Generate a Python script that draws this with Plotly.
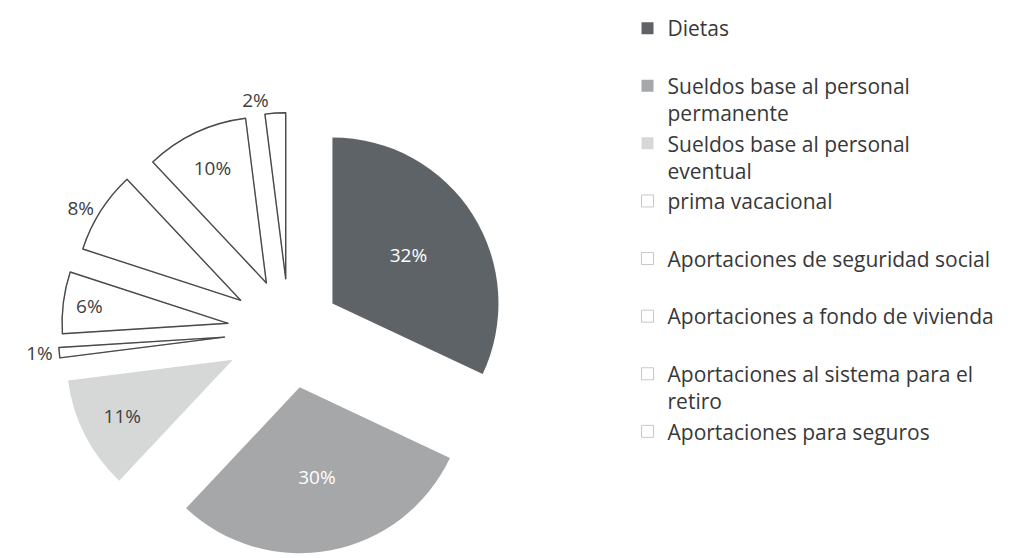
import plotly.graph_objects as go

# ---- data ----
categories = [
    "Dietas",
    "Sueldos base al personal permanente",
    "Sueldos base al personal eventual",
    "prima vacacional",
    "Aportaciones de seguridad social",
    "Aportaciones a fondo de vivienda",
    "Aportaciones al sistema para el retiro",
    "Aportaciones para seguros",
]
values = [32, 30, 11, 1, 6, 8, 10, 2]

# legend display text (line breaks as in the original legend)
legend_text = [
    "Dietas<br> ",
    "Sueldos base al personal<br>permanente",
    "Sueldos base al personal<br>eventual",
    "prima vacacional<br> ",
    "Aportaciones de seguridad social<br> ",
    "Aportaciones a fondo de vivienda<br> ",
    "Aportaciones al sistema para el<br>retiro",
    "Aportaciones para seguros",
]

# ---- styles ----
slice_colors = ["#5e6368", "#a5a7a9", "#d6d8d8", "#ffffff", "#ffffff", "#ffffff", "#ffffff", "#ffffff"]
faint_lines = ["#5e6368", "#a5a7a9", "#d6d8d8", "#c8c8c8", "#c8c8c8", "#c8c8c8", "#c8c8c8", "#c8c8c8"]
faint_widths = [0, 0, 0, 1, 1, 1, 1, 1]
dark_widths = [0, 0, 0, 1.4, 1.4, 1.4, 1.4, 1.4]
pulls = [0.31, 0.345, 0.38, 0.39, 0.37, 0.345, 0.32, 0.315]
text_pos = ["inside", "inside", "inside", "outside", "inside", "outside", "inside", "outside"]
text_colors = ["#ffffff", "#ffffff", "#404040", "#404040", "#404040", "#404040", "#404040", "#404040"]

W, H = 1024, 558
cx, cy, r = 281, 323, 166
half = r * (1 + max(pulls))
dom = dict(
    x=[(cx - half) / W, (cx + half) / W],
    y=[(H - cy - half) / H, (H - cy + half) / H],
)

fig = go.Figure()
fig.add_trace(
    go.Pie(
        labels=legend_text,
        values=values,
        sort=False,
        direction="clockwise",
        rotation=0,
        pull=pulls,
        marker=dict(colors=slice_colors, line=dict(color=faint_lines, width=faint_widths)),
        textinfo="percent",
        textposition=text_pos,
        insidetextorientation="horizontal",
        textfont=dict(family="Open Sans", size=19, color=text_colors),
        domain=dom,
        hovertext=categories,
        hoverinfo="text+percent",
    )
)
# dark outline overlay for the white slices (not shown in legend)
fig.add_trace(
    go.Pie(
        labels=legend_text,
        values=values,
        sort=False,
        direction="clockwise",
        rotation=0,
        pull=pulls,
        marker=dict(colors=["rgba(0,0,0,0)"] * len(values),
                    line=dict(color="#4a4a4a", width=dark_widths)),
        textinfo="none",
        domain=dom,
        showlegend=False,
        hoverinfo="skip",
    )
)

fig.update_layout(
    width=W,
    height=H,
    margin=dict(l=0, r=0, t=0, b=0, autoexpand=False),
    paper_bgcolor="white",
    plot_bgcolor="white",
    showlegend=True,
    legend=dict(
        x=0.605,
        y=1.0,
        xanchor="left",
        yanchor="top",
        valign="top",
        font=dict(family="Open Sans", size=21, color="#383838"),
        bgcolor="rgba(0,0,0,0)",
    ),
)

fig.write_html("out.html")
